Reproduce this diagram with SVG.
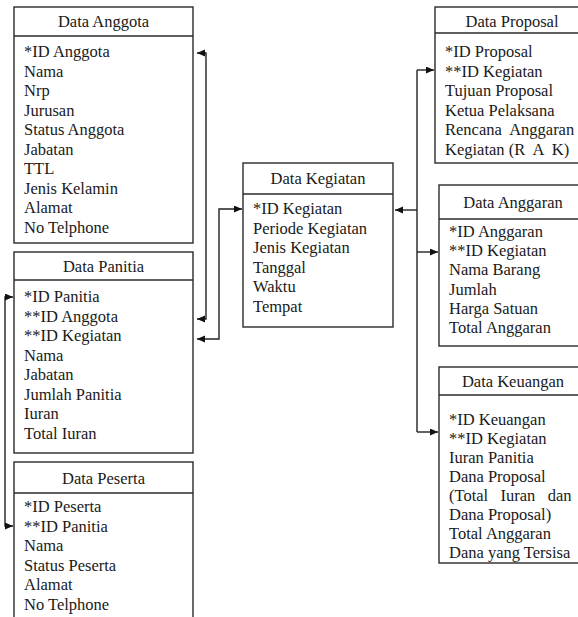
<svg xmlns="http://www.w3.org/2000/svg" width="578" height="617" viewBox="0 0 578 617" font-family="Liberation Serif, Times New Roman, serif" font-size="16.5">
<style>
.box{fill:#fff;stroke:#2a2a2a;stroke-width:1.4}
.div{stroke:#2a2a2a;stroke-width:1.4}
text{fill:#1a1a1a}
.t{text-anchor:middle}
.c{fill:none;stroke:#222;stroke-width:1.4}
</style>
<defs>
<marker id="ah" markerUnits="userSpaceOnUse" markerWidth="9" markerHeight="8" refX="8" refY="3.5" orient="auto-start-reverse"><path d="M0,0 L8,3.5 L0,7 z" fill="#111"/></marker>
</defs>
<rect width="578" height="617" fill="#fff"/>
<g id="connectors">
<path class="c" d="M197 53 H206 V319 H197" marker-start="url(#ah)" marker-end="url(#ah)"/>
<path class="c" d="M197 339 H219 V209 H242" marker-start="url(#ah)" marker-end="url(#ah)"/>
<path class="c" d="M13 297 H5 V526 H13" marker-start="url(#ah)" marker-end="url(#ah)"/>
<path class="c" d="M417 70 V432"/>
<path class="c" d="M417 70 H434" marker-end="url(#ah)"/>
<path class="c" d="M417 210 H395" marker-end="url(#ah)"/>
<path class="c" d="M417 252 H438" marker-end="url(#ah)"/>
<path class="c" d="M417 432 H438" marker-end="url(#ah)"/>
</g>
<g id="data-anggota">
<rect class="box" x="14" y="7" width="179" height="236"/>
<line class="div" x1="14" y1="36" x2="193" y2="36"/>
<text class="t" x="103.5" y="27">Data Anggota</text>
<text x="24" y="57">*ID Anggota</text>
<text x="24" y="76.5">Nama</text>
<text x="24" y="96">Nrp</text>
<text x="24" y="115.5">Jurusan</text>
<text x="24" y="135">Status Anggota</text>
<text x="24" y="154.5">Jabatan</text>
<text x="24" y="174">TTL</text>
<text x="24" y="193.5">Jenis Kelamin</text>
<text x="24" y="213">Alamat</text>
<text x="24" y="232.5">No Telphone</text>
</g>
<g id="data-panitia">
<rect class="box" x="14" y="252" width="179" height="201"/>
<line class="div" x1="14" y1="280" x2="193" y2="280"/>
<text class="t" x="103.5" y="272">Data Panitia</text>
<text x="24" y="302">*ID Panitia</text>
<text x="24" y="321.5">**ID Anggota</text>
<text x="24" y="341">**ID Kegiatan</text>
<text x="24" y="360.5">Nama</text>
<text x="24" y="380">Jabatan</text>
<text x="24" y="399.5">Jumlah Panitia</text>
<text x="24" y="419">Iuran</text>
<text x="24" y="438.5">Total Iuran</text>
</g>
<g id="data-peserta">
<rect class="box" x="14" y="462" width="179" height="170"/>
<line class="div" x1="14" y1="493" x2="193" y2="493"/>
<text class="t" x="103.5" y="484">Data Peserta</text>
<text x="24" y="512">*ID Peserta</text>
<text x="24" y="531.5">**ID Panitia</text>
<text x="24" y="551">Nama</text>
<text x="24" y="570.5">Status Peserta</text>
<text x="24" y="590">Alamat</text>
<text x="24" y="609.5">No Telphone</text>
</g>
<g id="data-kegiatan">
<rect class="box" x="243" y="163" width="150" height="164"/>
<line class="div" x1="243" y1="194" x2="393" y2="194"/>
<text class="t" x="318" y="184">Data Kegiatan</text>
<text x="253" y="214">*ID Kegiatan</text>
<text x="253" y="233.5">Periode Kegiatan</text>
<text x="253" y="253">Jenis Kegiatan</text>
<text x="253" y="272.5">Tanggal</text>
<text x="253" y="292">Waktu</text>
<text x="253" y="311.5">Tempat</text>
</g>
<g id="data-proposal">
<rect class="box" x="435" y="7" width="160" height="156"/>
<line class="div" x1="435" y1="33" x2="595" y2="33"/>
<text class="t" x="512" y="27">Data Proposal</text>
<text x="445" y="57">*ID Proposal</text>
<text x="445" y="76.5">**ID Kegiatan</text>
<text x="445" y="96">Tujuan Proposal</text>
<text x="445" y="115.5">Ketua Pelaksana</text>
<text x="445" y="135" xml:space="preserve">Rencana  Anggaran</text>
<text x="445" y="154.5" xml:space="preserve">Kegiatan (R  A  K)</text>
</g>
<g id="data-anggaran">
<rect class="box" x="439" y="185" width="160" height="161"/>
<line class="div" x1="439" y1="219" x2="599" y2="219"/>
<text class="t" x="513" y="208">Data Anggaran</text>
<text x="449" y="237">*ID Anggaran</text>
<text x="449" y="256.2">**ID Kegiatan</text>
<text x="449" y="275.4">Nama Barang</text>
<text x="449" y="294.6">Jumlah</text>
<text x="449" y="313.8">Harga Satuan</text>
<text x="449" y="333">Total Anggaran</text>
</g>
<g id="data-keuangan">
<rect class="box" x="439" y="367" width="160" height="196"/>
<line class="div" x1="439" y1="395" x2="599" y2="395"/>
<text class="t" x="513" y="387">Data Keuangan</text>
<text x="449" y="425">*ID Keuangan</text>
<text x="449" y="444">**ID Kegiatan</text>
<text x="449" y="463">Iuran Panitia</text>
<text x="449" y="482">Dana Proposal</text>
<text x="449" y="501" xml:space="preserve">(Total   Iuran   dan</text>
<text x="449" y="519.5">Dana Proposal)</text>
<text x="449" y="538.5">Total Anggaran</text>
<text x="449" y="557.5">Dana yang Tersisa</text>
</g>
</svg>
